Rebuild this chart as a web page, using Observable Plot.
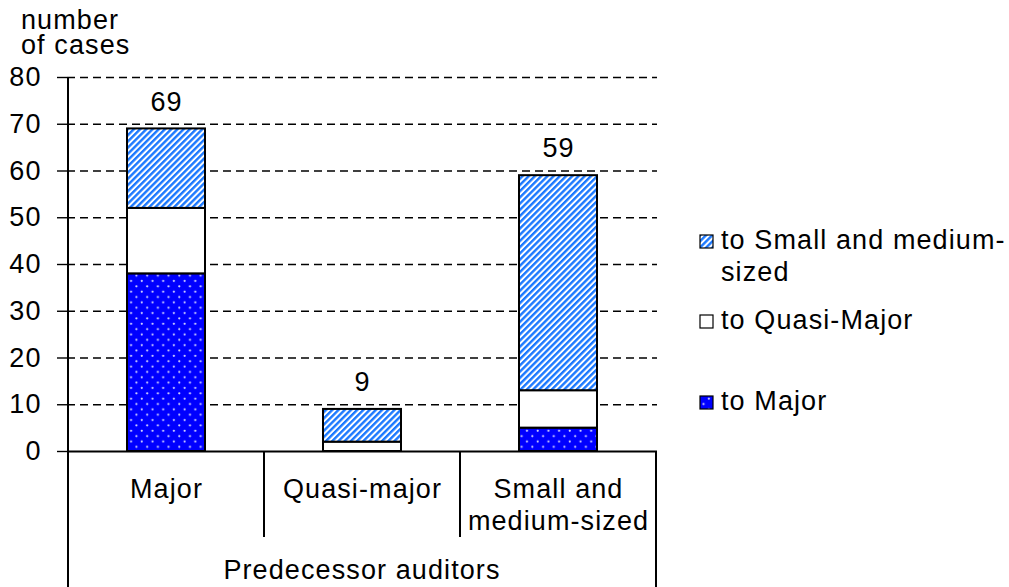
<!DOCTYPE html>
<html><head><meta charset="utf-8">
<script src="https://cdn.jsdelivr.net/npm/d3@7"></script>
<script src="https://cdn.jsdelivr.net/npm/@observablehq/plot@0.6"></script>
<style>
body{margin:0;background:#fff;font-family:"Liberation Sans",Arial,sans-serif}
#chart svg{display:block}
#chart svg text{letter-spacing:1.1px}
</style>
</head><body><div id="chart"></div>
<script>
// ---- data ----
const categories = ["Major", "Quasi-major", "Small and medium-sized"];
const categoryLabels = ["Major", "Quasi-major", "Small and\nmedium-sized"];
const series = ["to Major", "to Quasi-Major", "to Small and medium-sized"];
const legendLabels = [["to Major"], ["to Quasi-Major"], ["to Small and medium-", "sized"]];
const toMajor = [38, 0, 5];
const toQuasiMajor = [14, 2, 8];
const toSmallMedium = [17, 7, 46];
const totals = [69, 9, 59];
const yTicks = [0, 10, 20, 30, 40, 50, 60, 70, 80];
const yTitle = ["number", "of cases"];
const groupTitle = "Predecessor auditors";

// ---- table ----
const seriesValues = [toMajor, toQuasiMajor, toSmallMedium];
const rows = [];
categories.forEach((c, i) => {
  seriesValues.forEach((arr, j) => {
    if (arr[i] > 0) rows.push({category: c, series: series[j], value: arr[i]});
  });
});
const totalRows = categories.map((c, i) => ({category: c, total: totals[i]}));

const FONT = 27;
const plot = Plot.plot({
  width: 1009, height: 587,
  marginLeft: 67, marginRight: 352, marginTop: 77, marginBottom: 136,
  style: {fontFamily: '"Liberation Sans", Arial, sans-serif', fontSize: FONT + "px", color: "#000", background: "#fff", overflow: "visible"},
  x: {domain: categories, paddingInner: 0.6, paddingOuter: 0.3, axis: null},
  y: {domain: [0, 80], axis: null},
  color: {domain: series, range: ["url(#dots)", "#ffffff", "url(#hatch)"]},
  marks: [
    Plot.gridY(yTicks.filter(t => t > 0), {stroke: "#000", strokeOpacity: 1, strokeWidth: 1.4, strokeDasharray: "8,5"}),
    Plot.axisY(yTicks, {tickSize: 10, tickPadding: 16, fontSize: FONT, label: null, stroke: "#000", strokeWidth: 1.4}),
    Plot.barY(rows, {x: "category", y: "value", fill: "series", stroke: "#000", strokeWidth: 2, order: series}),
    Plot.text(totalRows, {x: "category", y: "total", text: d => String(d.total), dy: -27, fontSize: FONT}),
    Plot.axisX({tickSize: 0, tickPadding: 24, fontSize: FONT, lineHeight: 1.19, lineAnchor: "top", label: null,
      tickFormat: c => categoryLabels[categories.indexOf(c)]}),
    Plot.ruleY([0], {stroke: "#000", strokeWidth: 2})
  ]
});

document.getElementById("chart").appendChild(plot);

const svg = d3.select(plot);
// patterns
const defs = svg.insert("defs", ":first-child");
const hatch = defs.append("pattern").attr("id", "hatch").attr("patternUnits", "userSpaceOnUse")
  .attr("width", 4.4).attr("height", 4.4).attr("patternTransform", "rotate(45)");
hatch.append("rect").attr("width", 4.4).attr("height", 4.4).attr("fill", "#ffffff");
hatch.append("rect").attr("width", 2.4).attr("height", 4.4).attr("fill", "#1a78ff");
const dots = defs.append("pattern").attr("id", "dots").attr("patternUnits", "userSpaceOnUse")
  .attr("width", 10.7).attr("height", 10.7);
dots.append("rect").attr("width", 10.7).attr("height", 10.7).attr("fill", "#0000ff");
dots.append("circle").attr("cx", 2.7).attr("cy", 2.7).attr("r", 1.1).attr("fill", "#d8d8ff");
dots.append("circle").attr("cx", 8.05).attr("cy", 8.05).attr("r", 1.1).attr("fill", "#d8d8ff");

const xs = plot.scale("x"), ys = plot.scale("y");
const step = xs.step, bw = xs.bandwidth;
const x0 = xs.apply(categories[0]) - (step - bw) / 2;
const xEnd = x0 + step * categories.length;
const yBase = ys.apply(0), yTop = ys.apply(80);
const g = svg.append("g").attr("stroke", "#000").attr("stroke-width", 2);
g.append("line").attr("x1", x0).attr("x2", x0).attr("y1", yTop).attr("y2", 587);
g.append("line").attr("x1", xEnd).attr("x2", xEnd).attr("y1", yBase).attr("y2", 587);
for (let k = 1; k < categories.length; k++) {
  const xx = x0 + step * k;
  g.append("line").attr("x1", xx).attr("x2", xx).attr("y1", yBase).attr("y2", yBase + 86);
}
const tg = svg.append("g").attr("font-family", '"Liberation Sans", Arial, sans-serif')
  .attr("font-size", FONT).attr("fill", "#000").attr("text-anchor", "start");
tg.append("text").attr("x", (x0 + xEnd) / 2).attr("y", 579).attr("text-anchor", "middle").text(groupTitle);
yTitle.forEach((t, i) => tg.append("text").attr("x", 21).attr("y", 29 + i * 24.5).text(t));

// legend
const colorScale = plot.scale("color");
const legendPos = [{y: 410}, {y: 329}, {y: 249}];
series.forEach((s, j) => {
  const base = legendPos[j].y;
  tg.append("rect").attr("x", 700).attr("y", base - 14).attr("width", 13).attr("height", 13)
    .attr("fill", colorScale.apply(s)).attr("stroke", "#000").attr("stroke-width", 1.2);
  legendLabels[j].forEach((line, li) => {
    tg.append("text").attr("x", 721).attr("y", base + li * 32).text(line);
  });
});
</script>
</body></html>
